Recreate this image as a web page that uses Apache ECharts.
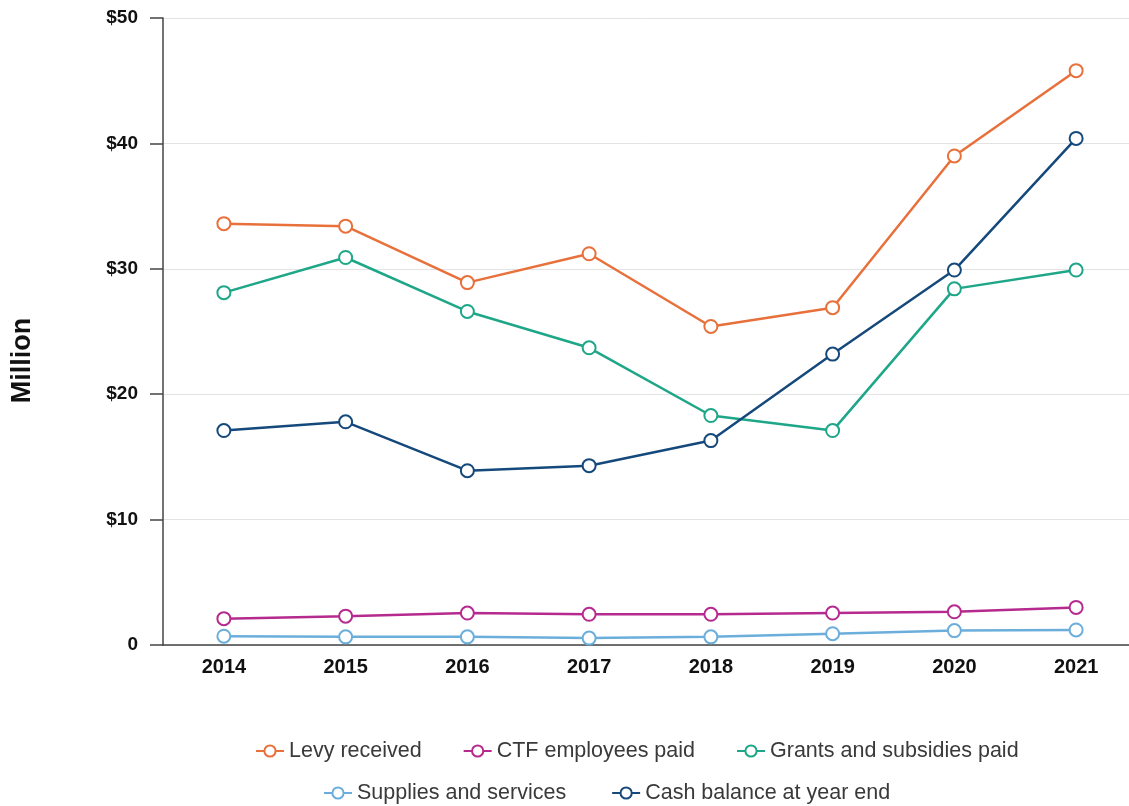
<!DOCTYPE html>
<html>
<head>
<meta charset="utf-8">
<script src="https://cdn.jsdelivr.net/npm/echarts@6/dist/echarts.min.js"></script>
<style>
html, body { margin: 0; padding: 0; background: #fff; }
#container { width: 1129px; height: 806px; }
</style>
</head>
<body>
<div id="container"></div>
<script>
var years = ['2014', '2015', '2016', '2017', '2018', '2019', '2020', '2021'];
var levyReceived = [33.6, 33.4, 28.9, 31.2, 25.4, 26.9, 39.0, 45.8];
var ctfEmployeesPaid = [2.1, 2.3, 2.55, 2.45, 2.45, 2.55, 2.65, 3.0];
var grantsPaid = [28.1, 30.9, 26.6, 23.7, 18.3, 17.1, 28.4, 29.9];
var suppliesServices = [0.7, 0.65, 0.65, 0.55, 0.65, 0.9, 1.15, 1.2];
var cashBalance = [17.1, 17.8, 13.9, 14.3, 16.3, 23.2, 29.9, 40.4];

var dom = document.getElementById('container');
var myChart = echarts.init(dom);
var font = '"Liberation Sans", Arial, sans-serif';

function lineSeries(name, color, data) {
    return {
        name: name,
        type: 'line',
        data: data,
        symbol: 'emptyCircle',
        symbolSize: 13,
        color: color,
        lineStyle: { width: 2.5, color: color },
        itemStyle: { color: color, borderWidth: 2.5, borderColor: color },
        emphasis: { disabled: true }
    };
}

var legendText = { fontFamily: font, fontSize: 21.5, color: '#3a3a3a' };

var option = {
    animation: false,
    grid: { left: 163, width: 974, top: 18, bottom: 161, outerBoundsMode: 'none', containLabel: false },
    legend: [
        {
            top: 735,
            left: 250,
            itemWidth: 28,
            itemHeight: 14,
            itemGap: 41,
            textStyle: legendText,
            data: ['Levy received', 'CTF employees paid', 'Grants and subsidies paid']
        },
        {
            top: 777,
            left: 318,
            itemWidth: 28,
            itemHeight: 14,
            itemGap: 45,
            textStyle: legendText,
            data: ['Supplies and services', 'Cash balance at year end']
        }
    ],
    xAxis: {
        type: 'category',
        data: years,
        axisLine: { lineStyle: { color: '#444', width: 1.5 } },
        axisTick: { alignWithLabel: true, length: 12, lineStyle: { color: '#444', width: 1.5 } },
        axisLabel: { fontFamily: font, fontSize: 20, fontWeight: 'bold', color: '#111', margin: 12 }
    },
    yAxis: {
        type: 'value',
        min: 0,
        max: 50,
        interval: 10,
        name: 'Million',
        nameLocation: 'middle',
        nameGap: 127,
        nameTextStyle: {
            fontFamily: font, fontSize: 27, fontWeight: 'bold', color: '#111',
            padding: [0, 58, 0, 0]
        },
        axisLine: { show: true, lineStyle: { color: '#444', width: 1.5 } },
        axisTick: { show: true, length: 13, lineStyle: { color: '#444', width: 1.5 } },
        axisLabel: {
            fontFamily: font, fontSize: 19, fontWeight: 'bold', color: '#111', margin: 25,
            formatter: function (v) { return v === 0 ? '0' : '$' + v; }
        },
        splitLine: { lineStyle: { color: '#e3e3e3', width: 1 } }
    },
    series: [
        lineSeries('Levy received', '#E8703A', levyReceived),
        lineSeries('CTF employees paid', '#B52A8E', ctfEmployeesPaid),
        lineSeries('Grants and subsidies paid', '#1EA688', grantsPaid),
        lineSeries('Supplies and services', '#6BAEDB', suppliesServices),
        lineSeries('Cash balance at year end', '#15497C', cashBalance)
    ]
};

if (option && typeof option === 'object') {
    myChart.setOption(option, true);
}
</script>
</body>
</html>
